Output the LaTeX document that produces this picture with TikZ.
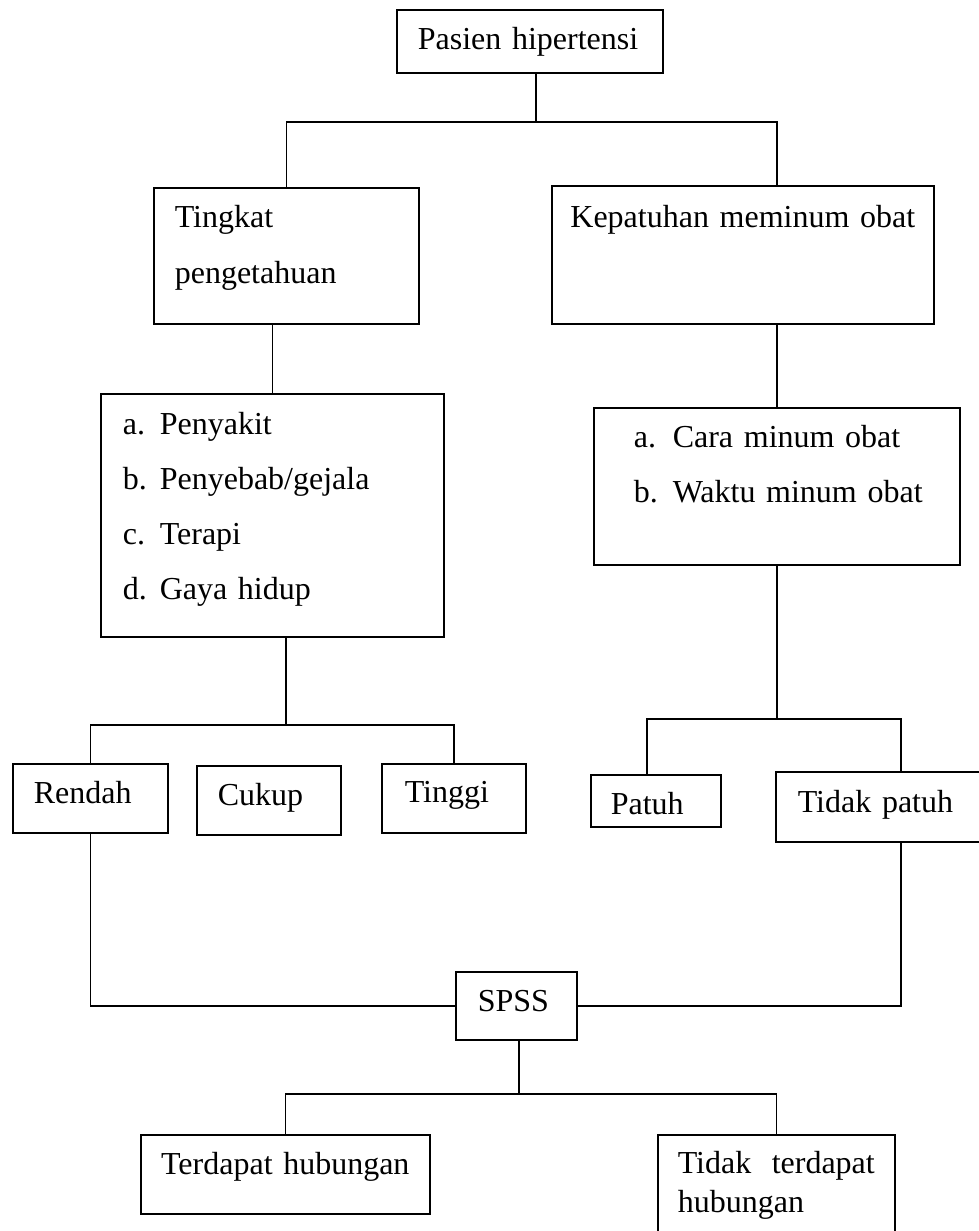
\documentclass[tikz,border=0pt]{standalone}
\usepackage{fontspec}
\setmainfont{Liberation Serif}
\usepackage{tikz}
\usetikzlibrary{positioning}

\begin{document}
\begin{tikzpicture}[
    x=1pt, y=-1pt,
    box/.style={rectangle, draw, line width=1.6pt, anchor=north west, inner ysep=0pt, inner xsep=21pt, align=left, font=\fontsize{32}{38}\selectfont},
    spaced/.style={font=\fontsize{32}{#1}\selectfont},
    link/.style={line width=1.6pt},
]
    \useasboundingbox (0,0) rectangle (978,1231);

    % Top: patient and the two variables
    \node[box, text width=224pt, text height=40pt, text depth=23pt] (pasien) at (396,9) {Pasien hipertensi};
    \node[box, spaced=56, text width=223pt, text height=40pt, text depth=96pt] (tingkat) at (153,187) {Tingkat\\pengetahuan};
    \node[box, align=center, inner xsep=11pt, text width=360pt, text height=42pt, text depth=96pt] (kepatuhan) at (551,185) {Kepatuhan meminum obat};

    % Indicators
    \node[box, spaced=55, inner xsep=22pt, text width=299pt, text height=41pt, text depth=202pt] (listL) at (100,393)
        {\makebox[37pt][l]{a.}Penyakit\\\makebox[37pt][l]{b.}Penyebab/gejala\\\makebox[37pt][l]{c.}Terapi\\\makebox[37pt][l]{d.}Gaya hidup};
    \node[box, spaced=55, inner xsep=16pt, text width=334pt, text height=40pt, text depth=117pt] (listR) at (593,407)
        {\hspace*{24pt}\makebox[39pt][l]{a.}Cara minum obat\\\hspace*{24pt}\makebox[39pt][l]{b.}Waktu minum obat};

    % Categories
    \node[box, text width=113pt, text height=40pt, text depth=29pt] (rendah) at (12,763) {Rendah};
    \node[box, text width=102pt, text height=40pt, text depth=29pt] (cukup) at (196,765) {Cukup};
    \node[box, inner xsep=23pt, text width=98pt, text height=39pt, text depth=30pt] (tinggi) at (381,763) {Tinggi};
    \node[box, inner xsep=20pt, text width=90pt, text height=40pt, text depth=12pt] (patuh) at (590,774) {Patuh};
    \node[box, inner xsep=22pt, text width=171pt, text height=41pt, text depth=29pt] (tidakpatuh) at (775,771) {Tidak patuh};

    % Analysis and results
    \node[box, inner xsep=22pt, text width=77pt, text height=40pt, text depth=28pt] (spss) at (455,971) {SPSS};
    \node[box, align=center, inner xsep=10pt, text width=269pt, text height=40pt, text depth=39pt] (terdapat) at (140,1134) {Terdapat hubungan};
    \node[box, spaced=39, inner xsep=20pt, text width=197pt, text height=39pt, text depth=90pt] (tidakterdapat) at (657,1134) {Tidak\hfill terdapat\\hubungan};

    % Junctions
    \coordinate (topbus) at (536,122);
    \coordinate (lbus) at (286,725);
    \coordinate (rbusL) at (647,719);
    \coordinate (rbusR) at (901,719);
    \coordinate (sbus) at (519,1094);

    \draw[link] (pasien.south -| topbus) -- (topbus);
    \draw[link] (tingkat.north) |- (topbus) -| (kepatuhan.north -| listR.north);
    \draw[link] (tingkat.south -| listL.north) -- (listL.north);
    \draw[link] (kepatuhan.south -| listR.north) -- (listR.north);

    \draw[link] (listL.south -| lbus) -- (lbus);
    \draw[link] (rendah.north) |- (lbus) -| (tinggi.north);
    \draw[link] (listR.south) -- (listR.south |- rbusL);
    \draw[link] (rbusL |- patuh.north) -- (rbusL) -- (rbusR) -- (rbusR |- tidakpatuh.north);

    \draw[link] (rendah.south) |- (spss.west);
    \draw[link] (tidakpatuh.south -| rbusR) |- (spss.east);
    \draw[link] (spss.south -| sbus) -- (sbus);
    \draw[link] (terdapat.north) |- (sbus) -| (tidakterdapat.north);

\end{tikzpicture}
\end{document}
